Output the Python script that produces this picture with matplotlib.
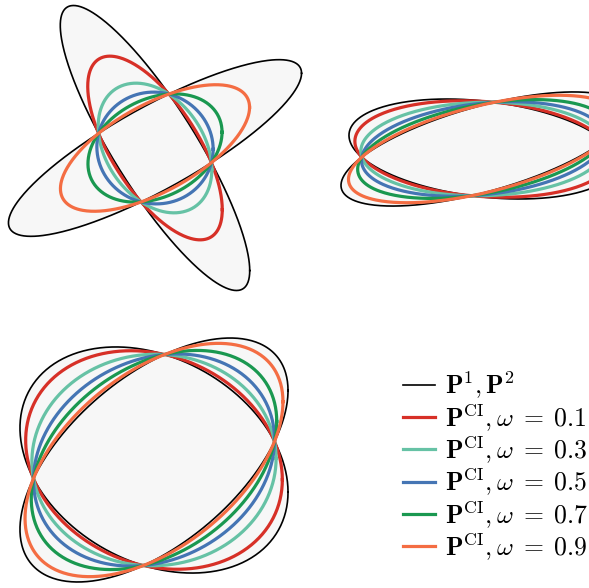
import numpy as np
import matplotlib
matplotlib.use("Agg")
import matplotlib.pyplot as plt
from matplotlib.lines import Line2D

plt.rcParams["mathtext.fontset"] = "cm"

# Covariance pairs (P1, P2) for the three scenarios
P1_cross = np.array([[12.47, 6.36], [6.36, 4.53]])
P2_cross = np.array([[5.21, -6.74], [-6.74, 11.79]])
P1_flat = np.array([[11.71, 3.00], [3.00, 1.89]])
P2_flat = np.array([[10.43, -1.06], [-1.06, 1.45]])
P1_round = np.array([[10.43, 5.40], [5.40, 8.64]])
P2_round = np.array([[10.43, -2.50], [-2.50, 7.42]])

omegas = [0.1, 0.3, 0.5, 0.7, 0.9]
ci_colors = ["#d73027", "#66c2a5", "#4575b4", "#1a9850", "#f46d43"]
fill_color = "#f7f7f7"

FIG_W, FIG_H = 589, 588
PX_PER_UNIT = 41.5
HALF_BOX = 160  # px


def ellipse_points(P, n=400):
    t = np.linspace(0, 2 * np.pi, n)
    L = np.linalg.cholesky(P)
    return L @ np.vstack([np.cos(t), np.sin(t)])


def covariance_intersection(P1, P2, w):
    return np.linalg.inv(w * np.linalg.inv(P1) + (1 - w) * np.linalg.inv(P2))


def add_panel(fig, cx, cy):
    """Square axes centred on pixel (cx, cy), same scale for every panel."""
    left = (cx - HALF_BOX) / FIG_W
    bottom = (FIG_H - cy - HALF_BOX) / FIG_H
    ax = fig.add_axes([left, bottom, 2 * HALF_BOX / FIG_W, 2 * HALF_BOX / FIG_H])
    lim = HALF_BOX / PX_PER_UNIT
    ax.set_xlim(-lim, lim)
    ax.set_ylim(-lim, lim)
    ax.set_aspect("equal")
    ax.axis("off")
    return ax


def draw_panel(ax, P1, P2):
    e1 = ellipse_points(P1)
    e2 = ellipse_points(P2)
    ax.fill(e1[0], e1[1], color=fill_color, lw=0)
    ax.fill(e2[0], e2[1], color=fill_color, lw=0)
    ax.plot(e1[0], e1[1], color="black", lw=1.2)
    ax.plot(e2[0], e2[1], color="black", lw=1.2)
    for w, c in zip(omegas, ci_colors):
        e = ellipse_points(covariance_intersection(P1, P2, w))
        ax.plot(e[0], e[1], color=c, lw=2.3)


fig = plt.figure(figsize=(FIG_W / 100, FIG_H / 100), dpi=100)

draw_panel(add_panel(fig, 155, 148), P1_cross, P2_cross)
draw_panel(add_panel(fig, 483, 149), P1_flat, P2_flat)
draw_panel(add_panel(fig, 154, 460), P1_round, P2_round)

handles = [Line2D([], [], color="black", lw=1.2)]
labels = [r"$\mathbf{P}^1, \mathbf{P}^2$"]
for w, c in zip(omegas, ci_colors):
    handles.append(Line2D([], [], color=c, lw=2.3))
    labels.append(r"$\mathbf{P}^{\mathrm{CI}}, \omega \;=\; %.1f$" % w)

fig.legend(handles, labels, loc="center left", bbox_to_anchor=(0.684, 0.208),
           frameon=False, fontsize=18.5, handlelength=1.25, handletextpad=0.39,
           labelspacing=0.02, borderpad=0, borderaxespad=0)

fig.savefig("out.png", dpi=100)
